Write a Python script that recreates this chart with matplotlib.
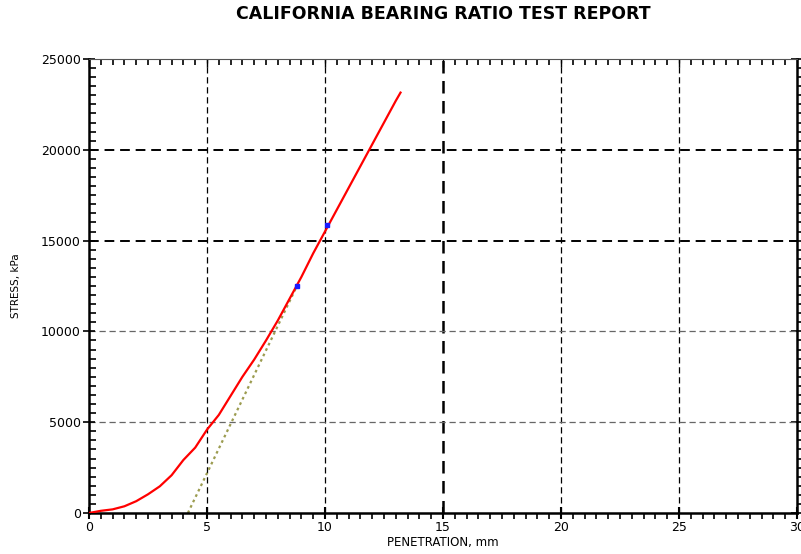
import matplotlib
matplotlib.use("Agg")
import matplotlib.pyplot as plt
from matplotlib.ticker import MultipleLocator, NullFormatter

# penetration (mm) vs stress (kPa)
penetration = [0, 0.5, 1, 1.5, 2, 2.5, 3, 3.5, 4, 4.5, 5, 5.5, 6, 6.5, 7,
               7.5, 8, 8.5, 9, 9.5, 10, 10.5, 11, 11.5, 12, 12.5, 13, 13.2]
stress = [0, 120, 200, 370, 650, 1030, 1470, 2080, 2920, 3600, 4590, 5400,
          6450, 7500, 8450, 9500, 10600, 11800, 13000, 14300, 15500, 16700,
          17900, 19100, 20300, 21500, 22700, 23150]

# corrected tangent line
tangent_x = [4.19, 8.81]
tangent_y = [0, 12500]

# marked points
mark_x = [8.81, 10.08]
mark_y = [12500, 15860]

x_grid = [5, 10, 15, 20, 25]
y_grid = [5000, 10000, 15000, 20000]
heavy_x = [15]
heavy_y = [15000, 20000]

fig = plt.figure(figsize=(8.01, 5.54), dpi=100)
ax = fig.add_axes([89 / 801, 1 - 513 / 554, (797 - 89) / 801, (513 - 59) / 554])

for xv in x_grid:
    lw = 1.8 if xv in heavy_x else 0.9
    ax.axvline(xv, color="black", lw=lw, ls=(0, (5, 3)), zorder=1)
for yv in y_grid:
    if yv in heavy_y:
        ax.axhline(yv, color="black", lw=1.4, ls=(0, (5, 3)), zorder=1)
    else:
        ax.axhline(yv, color="#666666", lw=0.9, ls=(0, (5, 3)), zorder=1)

ax.plot(tangent_x, tangent_y, color="#9c9c50", lw=1.6, ls=(0, (1.2, 1.5)), zorder=2)
ax.plot(penetration, stress, color="#ff0000", lw=1.6, zorder=3)
ax.plot(mark_x, mark_y, ls="none", marker="s", ms=3.5, color="#1a1aff", zorder=4)

ax.set_xlim(0, 30)
ax.set_ylim(0, 25000)
ax.xaxis.set_major_locator(MultipleLocator(5))
ax.xaxis.set_minor_locator(MultipleLocator(0.5))
ax.yaxis.set_major_locator(MultipleLocator(5000))
ax.yaxis.set_minor_locator(MultipleLocator(500))

ax.tick_params(axis="x", which="major", direction="inout", length=8, width=1.5,
               labelsize=9, pad=2)
ax.tick_params(axis="x", which="minor", direction="out", length=4, width=1.2)
ax.tick_params(axis="y", which="major", direction="inout", length=8, width=1.2,
               labelsize=9, pad=2)
ax.tick_params(axis="y", which="minor", direction="in", length=5, width=1.2)

for side in ["left", "bottom", "right"]:
    ax.spines[side].set_linewidth(1.8)
ax.spines["top"].set_linewidth(0.8)
ax.spines["top"].set_color("#555555")

top = ax.secondary_xaxis("top")
top.set_xticks(range(0, 31, 5))
top.xaxis.set_minor_locator(MultipleLocator(0.5))
top.xaxis.set_major_formatter(NullFormatter())
top.tick_params(which="major", direction="in", length=6, width=1.0)
top.tick_params(which="minor", direction="in", length=4, width=1.2)
top.spines["top"].set_visible(False)

right = ax.secondary_yaxis("right")
right.set_yticks(range(0, 25001, 5000))
right.yaxis.set_minor_locator(MultipleLocator(500))
right.yaxis.set_major_formatter(NullFormatter())
right.tick_params(which="major", direction="inout", length=8, width=1.2)
right.tick_params(which="minor", direction="out", length=4, width=1.2)
right.spines["right"].set_visible(False)

ax.set_xlabel("PENETRATION, mm", fontsize=8.5, labelpad=1)
ax.set_ylabel("STRESS, kPa", fontsize=7.5, labelpad=14)
fig.text(443 / 801, 1 - 14 / 554, "CALIFORNIA BEARING RATIO TEST REPORT",
         ha="center", va="center", fontsize=12.5, fontweight="bold")

fig.savefig("out.png", dpi=100)
